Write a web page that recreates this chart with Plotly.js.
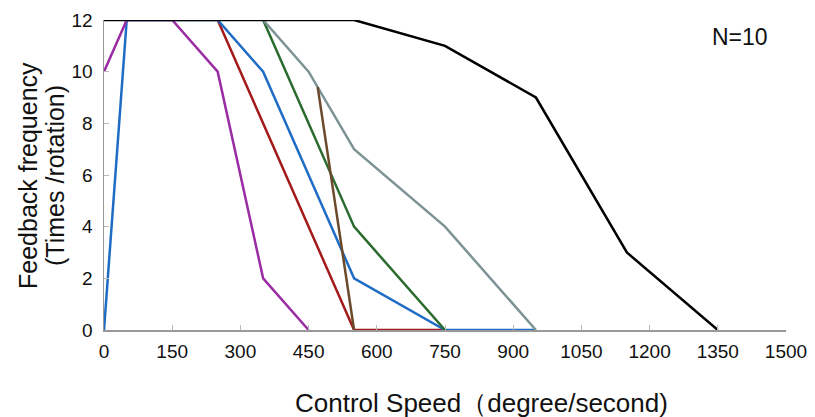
<!DOCTYPE html>
<html>
<head>
<meta charset="utf-8">
<script src="https://cdn.plot.ly/plotly-3.0.1.min.js"></script>
<style>html,body{margin:0;padding:0;background:#fff;}#chart{width:815px;height:417px;}</style>
</head>
<body>
<div id="chart"></div>
<script>
// Data
const purpleX = [0, 50, 150, 250, 350, 450];
const purpleY = [10, 12, 12, 10, 2, 0];
const blueX = [0, 50, 250, 350, 550, 750, 950];
const blueY = [0, 12, 12, 10, 2, 0, 0];
const redX = [250, 550, 750];
const redY = [12, 0, 0];
const greenX = [350, 550, 750];
const greenY = [12, 4, 0];
const grayX = [350, 450, 550, 750, 950];
const grayY = [12, 10, 7, 4, 0];
const brownX = [470, 550];
const brownY = [9.4, 0];
const blackX = [0, 550, 750, 950, 1150, 1350];
const blackY = [12, 12, 11, 9, 3, 0];

const xTicks = [0, 150, 300, 450, 600, 750, 900, 1050, 1200, 1350, 1500];
const yTicks = [0, 2, 4, 6, 8, 10, 12];
const xTitle = "Control Speed（degree/second)";
const yTitleLines = ["Feedback frequency", "(Times /rotation)"];
const annotationText = "N=10";

const series = [
  {x: redX, y: redY, c: "#A31A1A"},
  {x: blueX, y: blueY, c: "#1F6CC4"},
  {x: purpleX, y: purpleY, c: "#9A2DA3"},
  {x: greenX, y: greenY, c: "#2A6B2E"},
  {x: grayX, y: grayY, c: "#7E9396"},
  {x: brownX, y: brownY, c: "#6A4A2B"},
  {x: blackX, y: blackY, c: "#000000"}
];

const traces = series.map(s => ({
  x: s.x, y: s.y, type: "scatter", mode: "lines",
  line: {color: s.c, width: 2.5}, hoverinfo: "skip", showlegend: false
}));

const font = "Liberation Sans, Arial, sans-serif";
const titleFont = {size: 26, family: font, color: "#111"};
const layout = {
  width: 815, height: 417,
  margin: {l: 104, r: 29, t: 20, b: 87},
  paper_bgcolor: "#fff", plot_bgcolor: "#fff",
  font: {family: font, color: "#111", size: 18},
  showlegend: false,
  xaxis: {
    range: [0, 1500], tickvals: xTicks, ticktext: xTicks.map(String),
    showgrid: false, zeroline: false, showline: true, linecolor: "#999", linewidth: 2,
    ticks: "inside", ticklen: 5, tickcolor: "#bbb", tickwidth: 1,
    tickfont: {size: 19, family: font}, ticklabelstandoff: 3
  },
  yaxis: {
    range: [0, 12], tickvals: yTicks, ticktext: yTicks.map(String),
    showgrid: false, zeroline: false, showline: true, linecolor: "#999", linewidth: 1.5,
    ticks: "inside", ticklen: 5, tickcolor: "#bbb", tickwidth: 1,
    tickfont: {size: 19, family: font}, ticklabelstandoff: 6
  },
  annotations: [
    {text: annotationText, xref: "paper", yref: "paper", x: 0.9326, y: 0.945,
     xanchor: "center", yanchor: "middle", showarrow: false,
     font: {size: 23, family: font, color: "#111"}},
    {text: xTitle, xref: "paper", yref: "paper", x: 0.553, y: -0.235,
     xanchor: "center", yanchor: "middle", showarrow: false, font: titleFont},
    {text: yTitleLines[0], xref: "paper", yref: "paper", x: -0.1114, y: 0.497,
     xanchor: "center", yanchor: "middle", textangle: -90, showarrow: false,
     font: {size: 25, family: font, color: "#111"}},
    {text: yTitleLines[1], xref: "paper", yref: "paper", x: -0.0718, y: 0.497,
     xanchor: "center", yanchor: "middle", textangle: -90, showarrow: false,
     font: {size: 25, family: font, color: "#111"}}
  ]
};

Plotly.newPlot("chart", traces, layout, {displayModeBar: false, staticPlot: true});
</script>
</body>
</html>
